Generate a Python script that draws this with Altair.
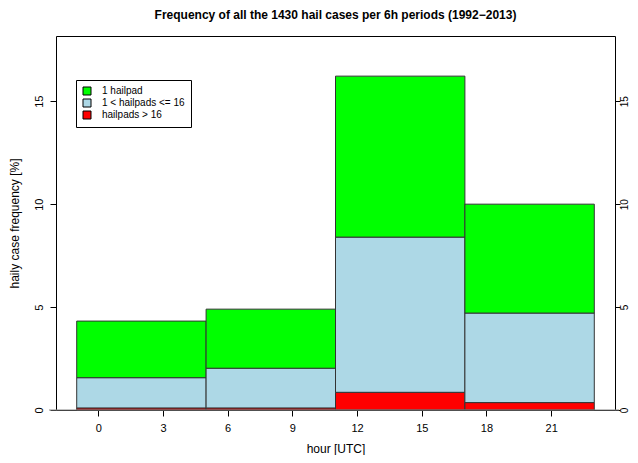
import altair as alt
import pandas as pd

# data
starts = [-1, 5, 11, 17]
ends = [5, 11, 17, 23]
categories = ["1 hailpad", "1 < hailpads <= 16", "hailpads > 16"]
colors = ["#00FF00", "#ADD8E6", "#FF0000"]
# values per category (percent), per 6h period
one_pad = [2.75, 2.87, 7.82, 5.29]
mid_pads = [1.47, 1.93, 7.54, 4.35]
many_pads = [0.10, 0.10, 0.86, 0.36]
x_ticks = [0, 3, 6, 9, 12, 15, 18, 21]
y_ticks = [0, 5, 10, 15]

rows = []
for i in range(4):
    for cat, vals, order in [(categories[2], many_pads, 0), (categories[1], mid_pads, 1), (categories[0], one_pad, 2)]:
        rows.append({"start": starts[i], "end": ends[i], "cat": cat, "value": vals[i], "order": order})
df = pd.DataFrame(rows)

xscale = alt.Scale(domain=[-1.96, 23.96], nice=False, zero=False)
yscale = alt.Scale(domain=[0, 18.17], nice=False, zero=False)

xaxis = alt.Axis(values=x_ticks, title="hour [UTC]", domain=False, grid=False,
                 tickSize=6, tickColor="black", labelPadding=6, titlePadding=10,
                 labelFontSize=11, titleFontSize=12, titleFontWeight="normal",
                 labelFont="Liberation Sans", titleFont="Liberation Sans",
                 labelColor="black", titleColor="black")

base = alt.Chart(df).transform_stack(
    stack="value", as_=["y0", "y1"], groupby=["start"], sort=[alt.SortField("order")]
)

bars = base.mark_rect(stroke="#333333", strokeWidth=1).encode(
    x=alt.X("start:Q", scale=xscale, axis=xaxis),
    x2="end:Q",
    y=alt.Y("y0:Q", scale=yscale,
            axis=alt.Axis(values=y_ticks, title="haily case frequency [%]", domain=False, grid=False,
                          tickSize=6, tickColor="black", labelAngle=-90, labelPadding=6,
                          titlePadding=12, labelFontSize=11, titleFontSize=12,
                          titleFontWeight="normal", labelFont="Liberation Sans",
                          titleFont="Liberation Sans", labelColor="black", titleColor="black")),
    y2="y1:Q",
    color=alt.Color("cat:N", scale=alt.Scale(domain=categories, range=colors),
                    legend=alt.Legend(title=None, orient="none", legendX=20, legendY=44,
                                      symbolType="square", symbolSize=64,
                                      symbolStrokeColor="black", symbolStrokeWidth=1,
                                      symbolOpacity=1,
                                      strokeColor="black", fillColor="white", padding=6,
                                      labelFontSize=10, labelFont="Liberation Sans",
                                      labelColor="black", rowPadding=0, labelOffset=10)),
)

right = base.mark_rect(opacity=0).encode(
    x=alt.X("start:Q", scale=xscale, axis=xaxis),
    x2="end:Q",
    y=alt.Y("y0:Q", scale=yscale,
            axis=alt.Axis(orient="right", values=y_ticks, title=None, domain=False, grid=False,
                          tickSize=5, tickColor="black", labelAngle=-90, labelPadding=-1,
                          labelFontSize=10, labelFont="Liberation Sans", labelColor="black")),
    y2="y1:Q",
)

baseline = alt.Chart(pd.DataFrame({"v": [0]})).mark_rule(color="#888888", strokeWidth=1, clip=False).encode(
    x=alt.value(-7), x2=alt.value(563), y=alt.Y("v:Q", scale=yscale, axis=None)
)

chart = alt.layer(bars, right, baseline).resolve_axis(y="independent").properties(
    width=559, height=374,
    title=alt.TitleParams("Frequency of all the 1430 hail cases per 6h periods (1992\u22122013)",
                          font="Liberation Sans", fontSize=12, fontWeight="bold", color="black",
                          offset=14),
    autosize=alt.AutoSizeParams(type="none"),
    padding={"left": 48, "top": 28, "right": 15, "bottom": 45},
).configure_view(stroke="black", strokeWidth=1)

chart.save("out.html", embed_options={"renderer": "svg", "actions": False})
